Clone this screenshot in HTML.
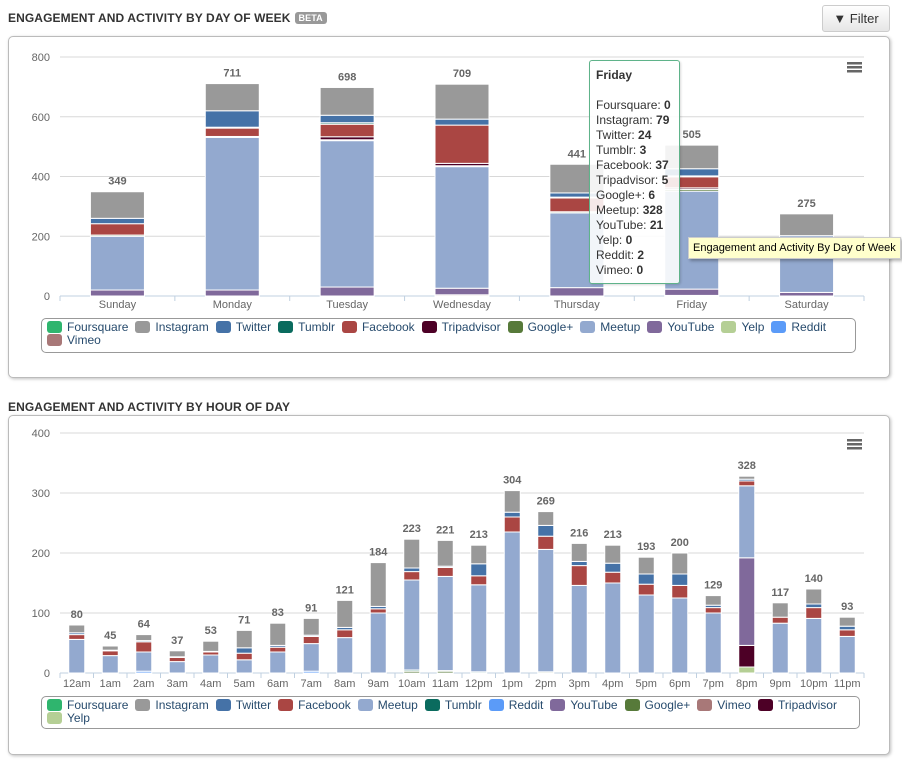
<!DOCTYPE html>
<html><head><meta charset="utf-8"><style>
body{margin:0;width:902px;height:768px;background:#fff;font-family:"Liberation Sans",sans-serif;position:relative;overflow:hidden}
.title{position:absolute;left:8px;font-size:12px;font-weight:bold;color:#333;letter-spacing:.1px}
.beta{display:inline-block;background:#999;color:#fff;font-size:9px;padding:1px 4px;border-radius:3px;margin-left:4px;vertical-align:1px}
.card{position:absolute;left:8px;width:880px;border:1px solid #bbb;border-radius:5px;box-shadow:1px 1px 3px rgba(0,0,0,.25);background:#fff}
.filter{position:absolute;left:822px;top:5px;width:66px;height:25px;border:1px solid #ccc;border-radius:3px;background:linear-gradient(#fff,#e6e6e6);font-size:13px;color:#333;line-height:25px;text-align:center}
.legend{position:absolute;border:1px solid #999;border-radius:5px;font-size:12px;color:#274b6d;padding:2px 4px 1px 5px;line-height:13px;box-sizing:border-box;white-space:nowrap;overflow:hidden}
.li{display:inline-block;margin-right:7px;white-space:nowrap}
.sw{display:inline-block;width:15px;height:12px;border-radius:3px;vertical-align:-2px;margin-right:5px}
svg{position:absolute;left:0;top:0}
</style></head><body>
<div class="title" style="top:11px">ENGAGEMENT AND ACTIVITY BY DAY OF WEEK<span class="beta">BETA</span></div>
<div class="filter">&#9660; Filter</div>
<div class="card" style="top:36px;height:340px"></div>
<div class="title" style="top:400px">ENGAGEMENT AND ACTIVITY BY HOUR OF DAY</div>
<div class="card" style="top:415px;height:338px"></div>
<svg id="chart" width="902" height="768"></svg>
<div class="legend" id="leg1" style="left:41px;top:318px;width:815px;height:35px"></div>
<div class="legend" id="leg2" style="left:41px;top:696px;width:819px;height:33px"></div>
<div id="tip" style="position:absolute;left:589px;top:60px;width:91px;height:224px;border:1px solid #5fb38a;border-radius:3px;background:rgba(255,255,255,.88);font-size:12px;color:#333;line-height:15px;box-sizing:border-box;padding:7px 6px;box-shadow:1px 1px 2px rgba(0,0,0,.15)"><b>Friday</b><br><br>Foursquare: <b>0</b><br>Instagram: <b>79</b><br>Twitter: <b>24</b><br>Tumblr: <b>3</b><br>Facebook: <b>37</b><br>Tripadvisor: <b>5</b><br>Google+: <b>6</b><br>Meetup: <b>328</b><br>YouTube: <b>21</b><br>Yelp: <b>0</b><br>Reddit: <b>2</b><br>Vimeo: <b>0</b></div>
<div style="position:absolute;left:688px;top:237px;height:20px;padding:0 4px;background:#ffffcc;border:1px solid #ccc;font-size:11px;line-height:20px;color:#000;box-shadow:2px 2px 3px rgba(0,0,0,.3)">Engagement and Activity By Day of Week</div>
<script>
const dayCats=["Sunday","Monday","Tuesday","Wednesday","Thursday","Friday","Saturday"];
const dayTicks=[0,200,400,600,800];
const dayFoursquare=[0,0,0,0,0,0,0];
const dayInstagram=[89,91,93,117,96,79,73];
const dayTwitter=[18,55,25,20,14,24,0];
const dayTumblr=[0,3,5,0,3,3,0];
const dayFacebook=[38,28,42,128,46,37,0];
const dayTripadvisor=[0,0,10,8,0,5,0];
const dayGoogle=[4,3,3,3,4,6,0];
const dayMeetup=[180,511,490,407,250,328,190];
const dayYouTube=[20,20,30,22,28,21,12];
const dayYelp=[0,0,0,0,0,0,0];
const dayReddit=[0,0,0,0,0,2,0];
const dayVimeo=[0,0,0,4,0,0,0];

const hourCats=["12am","1am","2am","3am","4am","5am","6am","7am","8am","9am","10am","11am","12pm","1pm","2pm","3pm","4pm","5pm","6pm","7pm","8pm","9pm","10pm","11pm"];
const hourTicks=[0,100,200,300,400];
const hourFoursquare=[0,0,0,0,0,0,0,0,0,0,0,0,0,0,0,0,0,0,0,0,0,0,0,0];
const hourInstagram=[13,7,10,10,17,29,37,28,45,73,48,43,31,36,23,30,30,28,35,16,5,24,25,15];
const hourTwitter=[3,1,2,1,1,9,3,2,4,4,6,2,20,8,18,7,15,17,19,4,3,0,6,6];
const hourFacebook=[8,8,17,7,5,11,8,12,13,7,14,15,15,25,22,33,18,18,21,9,8,10,18,11];
const hourMeetup=[56,29,32,19,30,22,35,46,59,100,150,157,145,235,204,146,150,130,125,100,120,83,91,61];
const hourTumblr=[0,0,0,0,0,0,0,0,0,0,2,1,2,0,0,0,0,0,0,0,0,0,0,0];
const hourReddit=[0,0,3,0,0,0,0,3,0,0,0,0,0,0,0,0,0,0,0,0,0,0,0,0];
const hourYouTube=[0,0,0,0,0,0,0,0,0,0,0,0,0,0,0,0,0,0,0,0,146,0,0,0];
const hourGoogle=[0,0,0,0,0,0,0,0,0,0,3,3,0,0,2,0,0,0,0,0,0,0,0,0];
const hourVimeo=[0,0,0,0,0,0,0,0,0,0,0,0,0,0,0,0,0,0,0,0,0,0,0,0];
const hourTripadvisor=[0,0,0,0,0,0,0,0,0,0,0,0,0,0,0,0,0,0,0,0,36,0,0,0];
const hourYelp=[0,0,0,0,0,0,0,0,0,0,0,0,0,0,0,0,0,0,0,0,10,0,0,0];

const C={Foursquare:"#2fb56e",Instagram:"#999999",Twitter:"#4572a7",Tumblr:"#0a6b5e",Facebook:"#aa4643",Tripadvisor:"#4d0026","Google+":"#577a3a",Meetup:"#93a9cf",YouTube:"#80699b",Yelp:"#b5cf95",Reddit:"#5b9bf8",Vimeo:"#a87878"};
const daySeries=[["Foursquare",dayFoursquare],["Instagram",dayInstagram],["Twitter",dayTwitter],["Tumblr",dayTumblr],["Facebook",dayFacebook],["Tripadvisor",dayTripadvisor],["Google+",dayGoogle],["Meetup",dayMeetup],["YouTube",dayYouTube],["Yelp",dayYelp],["Reddit",dayReddit],["Vimeo",dayVimeo]];
const hourSeries=[["Foursquare",hourFoursquare],["Instagram",hourInstagram],["Twitter",hourTwitter],["Facebook",hourFacebook],["Meetup",hourMeetup],["Tumblr",hourTumblr],["Reddit",hourReddit],["YouTube",hourYouTube],["Google+",hourGoogle],["Vimeo",hourVimeo],["Tripadvisor",hourTripadvisor],["Yelp",hourYelp]];

const NS="http://www.w3.org/2000/svg";
const svg=document.getElementById("chart");
function mk(tag,attrs,parent){const e=document.createElementNS(NS,tag);for(const k in attrs)e.setAttribute(k,attrs[k]);(parent||svg).appendChild(e);return e;}

function draw(prefix,cats,series,ticks,x0,x1,yBase,yTop,barW,labelY){
  const g=mk("g",{});
  
  
  const yMax=ticks[ticks.length-1];
  const y=v=>yBase-(v/yMax)*(yBase-yTop);
  const cw=(x1-x0)/cats.length;
  const xc=i=>x0+cw*(i+0.5);
  ticks.forEach(t=>{
    const l=mk("line",{x1:x0,x2:x1,y1:y(t),y2:y(t),stroke:t===0?"#c0d0e0":"#d8d8d8","stroke-width":1},g);
    
    
    const tx=mk("text",{x:x0-10,y:y(t)+4,"text-anchor":"end","font-size":11,fill:"#666"},g);
    tx.textContent=t;
    
    
  });
  for(let i=0;i<=cats.length;i++){
    mk("line",{x1:x0+cw*i,x2:x0+cw*i,y1:yBase,y2:yBase+5,stroke:"#c0d0e0"},g);
  }
  cats.forEach((c,i)=>{
    let cum=0;
    for(let s=series.length-1;s>=0;s--){
      const v=series[s][1][i];
      if(v>0){
        const r=mk("rect",{x:xc(i)-barW/2,y:y(cum+v),width:barW,height:y(cum)-y(cum+v),fill:C[series[s][0]],stroke:"#fff","stroke-width":1},g);
        
        
      }
      cum+=v;
    }
    const tl=mk("text",{x:xc(i),y:y(cum)-7,"text-anchor":"middle","font-size":11,"font-weight":"bold",fill:"#666"},g);
    tl.textContent=cum;
    
    
    const cl=mk("text",{x:xc(i),y:labelY,"text-anchor":"middle","font-size":11,fill:"#666"},g);
    cl.textContent=c;
    
    
  });
}
draw("day",dayCats,daySeries,dayTicks,60,864,296,57,54,308);
draw("hour",hourCats,hourSeries,hourTicks,60,864,673,433,16,687);

[[62],[439]].forEach(([yy],k)=>{
  const m=mk("g",{});
  
  
  for(let j=0;j<3;j++)mk("rect",{x:847,y:yy+j*4,width:15,height:2.5,fill:"#666"},m);
});

function legend(id,series,breakAfter){
  const d=document.getElementById(id);
  series.forEach(([n],i)=>{
    const s=document.createElement("span");
    s.className="li";
    
    
    s.innerHTML='<span class="sw" style="background:'+C[n]+'"></span>'+n;
    d.appendChild(s);
    if(i===breakAfter)d.appendChild(document.createElement("br"));
  });
}
legend("leg1",daySeries,10);
legend("leg2",hourSeries,10);
</script>
</body></html>
